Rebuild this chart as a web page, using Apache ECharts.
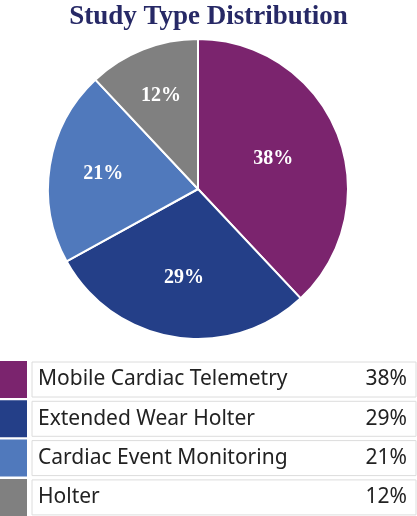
<!DOCTYPE html>
<html>
<head>
<meta charset="utf-8">
<script src="https://cdn.jsdelivr.net/npm/echarts@6/dist/echarts.min.js"></script>
<style>
    html, body { margin: 0; padding: 0; background: #fff; }
    #chart { width: 417px; height: 516px; }
</style>
</head>
<body>
<div id="chart"></div>
<script>
const studyTypes = ['Mobile Cardiac Telemetry', 'Extended Wear Holter', 'Cardiac Event Monitoring', 'Holter'];
const shares = [38, 29, 21, 12];
const sliceColors = ['#7b246e', '#243f88', '#5079bc', '#808080'];

const pieRadius = 150;

// put each label on the centroid of its slice, ECharts puts "inside" labels at r/2
function centroidOffsets (values) {
    const total = values.reduce((a, b) => a + b, 0);
    let cum = 0;
    return values.map((v) => {
        const theta = 2 * Math.PI * v / total;
        const mid = 2 * Math.PI * (cum + v / 2) / total;
        cum += v;
        const d = 4 * pieRadius * Math.sin(theta / 2) / (3 * theta) - pieRadius / 2;
        return [d * Math.sin(mid), -d * Math.cos(mid)];
    });
}

const offsets = centroidOffsets(shares);

const chart = echarts.init(document.getElementById('chart'));

const rowText = {
    fontFamily: 'Noto Sans',
    fontSize: 21,
    lineHeight: 35,
    height: 35,
    color: '#222'
};

chart.setOption({
    animation: false,
    title: {
        text: 'Study Type Distribution',
        left: 'center',
        top: 4,
        padding: 0,
        textStyle: {
            fontFamily: 'Liberation Serif',
            fontWeight: 'bold',
            fontSize: 27,
            color: '#272966'
        }
    },
    legend: {
        orient: 'vertical',
        left: 0,
        top: 361,
        height: 220,
        padding: 0,
        itemGap: 2.3,
        itemWidth: 27,
        itemHeight: 37,
        icon: 'rect',
        selectedMode: false,
        itemStyle: { borderWidth: 0 },
        data: studyTypes,
        formatter: (name) => {
            const i = studyTypes.indexOf(name);
            return '{n|' + name + '}{p|' + shares[i] + '%}';
        },
        textStyle: {
            height: 35,
            lineHeight: 35,
            padding: [0, 9, 0, 6],
            borderColor: '#dcdcdc',
            borderWidth: 1,
            rich: {
                n: Object.assign({ width: 290 }, rowText),
                p: Object.assign({ width: 79, align: 'right' }, rowText)
            }
        }
    },
    series: [
        {
            type: 'pie',
            center: [198, 189],
            radius: pieRadius,
            startAngle: 90,
            clockwise: true,
            itemStyle: {
                borderColor: '#fff',
                borderWidth: 2
            },
            label: {
                position: 'inside',
                formatter: '{c}%',
                fontFamily: 'Liberation Serif',
                fontWeight: 'bold',
                fontSize: 20,
                color: '#fff'
            },
            labelLine: { show: false },
            data: studyTypes.map((name, i) => ({
                name: name,
                value: shares[i],
                itemStyle: { color: sliceColors[i] },
                label: { offset: offsets[i] }
            }))
        }
    ]
});
</script>
</body>
</html>
